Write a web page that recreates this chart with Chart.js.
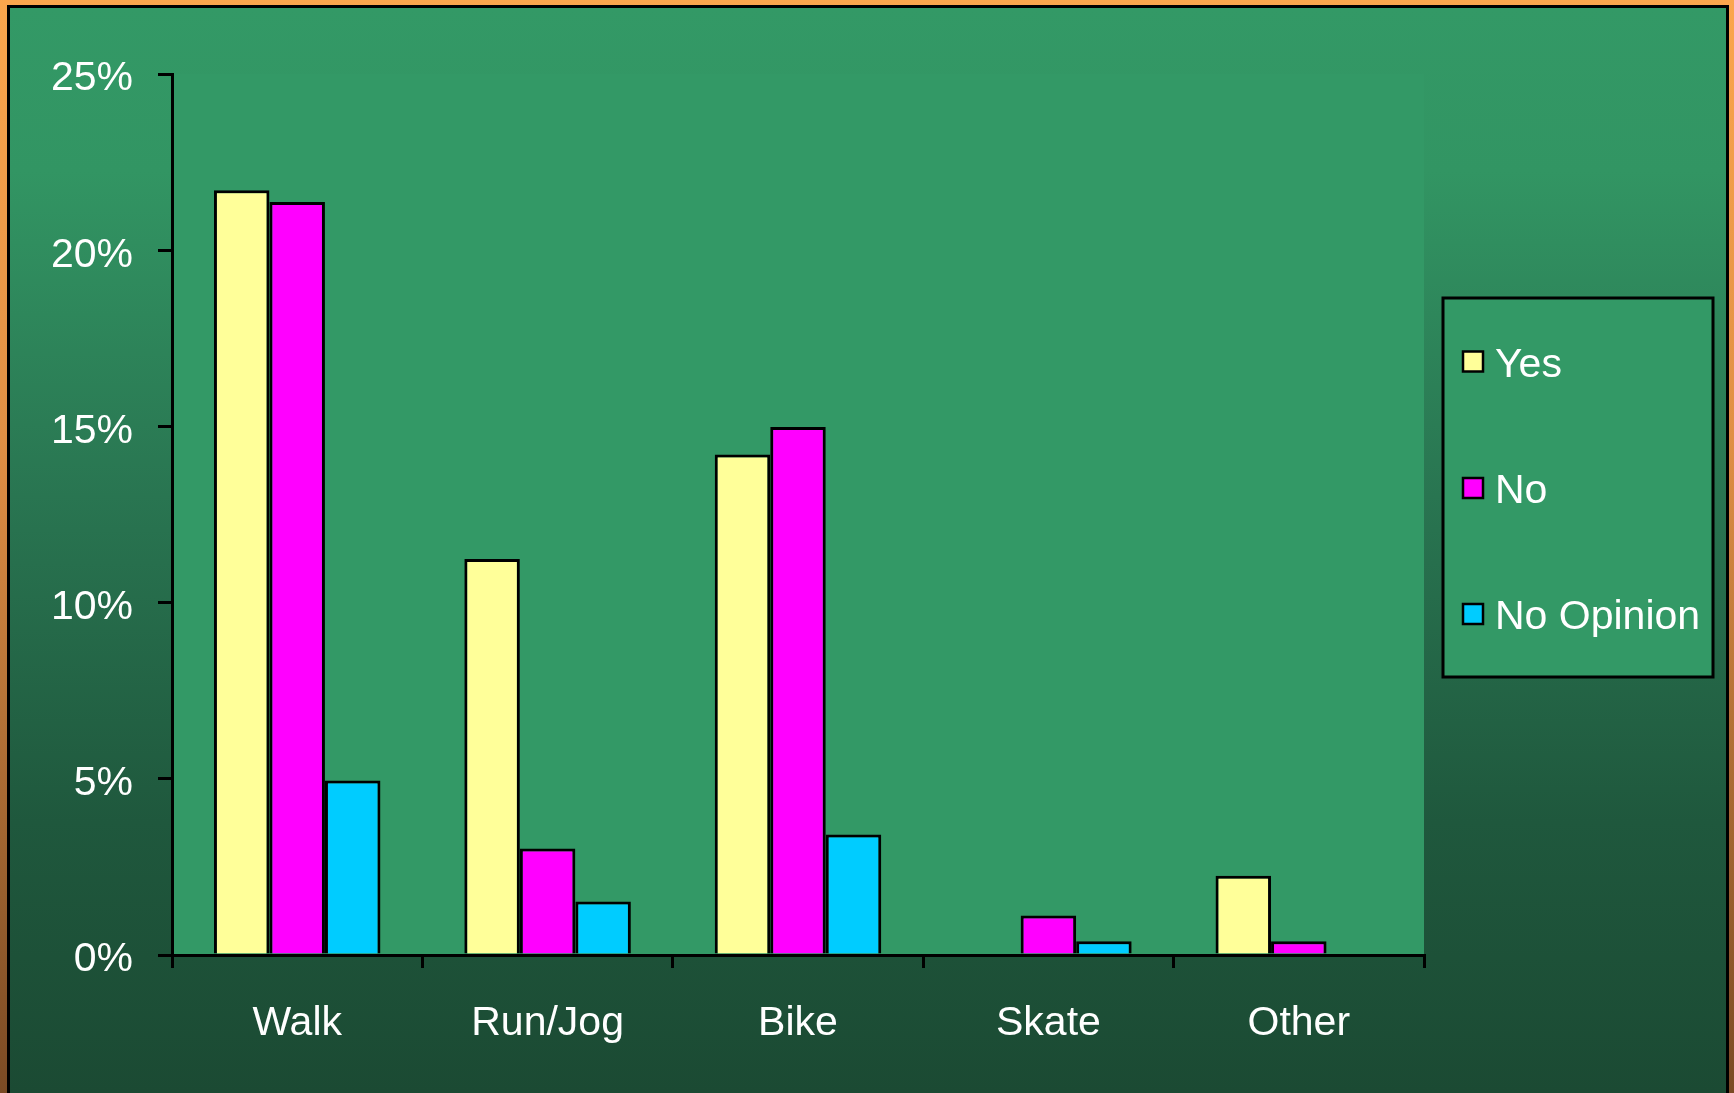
<!DOCTYPE html>
<html>
<head>
<meta charset="utf-8">
<script src="https://cdn.jsdelivr.net/npm/chart.js@4"></script>
<style>
  html, body { margin: 0; padding: 0; background: #1b4a33; }
  canvas { display: block; }
</style>
</head>
<body>
<canvas id="chart" width="1734" height="1093" style="width:1734px;height:1093px"></canvas>
<script>
const categories = ["Walk", "Run/Jog", "Bike", "Skate", "Other"];
const yesValues = [21.7, 11.24, 14.2, 0, 2.25];
const noValues = [21.37, 3.02, 14.98, 1.12, 0.39];
const noOpinionValues = [4.95, 1.52, 3.42, 0.39, 0];
const yTicks = [0, 5, 10, 15, 20, 25];

const FONT = '"Liberation Sans", Arial, sans-serif';

// frame, gradient background and plot area fill
const backdrop = {
	id: "backdrop",
	beforeDraw(chart) {
		const ctx = chart.ctx;
		const W = chart.width, H = chart.height;
		const a = chart.chartArea;
		ctx.save();
		let og = ctx.createLinearGradient(0, 0, 0, H);
		og.addColorStop(0, "#fba64d");
		og.addColorStop(0.4, "#e08f45");
		og.addColorStop(1, "#7a4a24");
		ctx.fillStyle = og;
		ctx.fillRect(0, 0, W, H);
		ctx.fillStyle = "#000";
		ctx.fillRect(7, 5, 1722, H - 5);
		let g = ctx.createLinearGradient(0, 8, 0, H);
		g.addColorStop(0, "#339966");
		g.addColorStop(0.15, "#329563");
		g.addColorStop(0.45, "#297551");
		g.addColorStop(0.75, "#1f583d");
		g.addColorStop(1, "#1b4a33");
		ctx.fillStyle = g;
		ctx.fillRect(10, 8, 1716, H - 8);
		ctx.fillStyle = "#339966";
		ctx.fillRect(a.left, a.top, a.right - a.left, a.bottom - a.top);
		ctx.restore();
	},
	afterDraw(chart) {
		// legend box
		const ctx = chart.ctx;
		ctx.save();
		ctx.fillStyle = "#339966";
		ctx.fillRect(1443, 298, 270, 379);
		ctx.strokeStyle = "#000";
		ctx.lineWidth = 3;
		ctx.strokeRect(1443, 298, 270, 379);
		const rows = [361.5, 488, 614];
		ctx.font = "41px " + FONT;
		ctx.textBaseline = "middle";
		chart.data.datasets.forEach((ds, i) => {
			const y = rows[i];
			ctx.fillStyle = ds.backgroundColor;
			ctx.fillRect(1463, y - 10, 20, 20);
			ctx.lineWidth = 2.5;
			ctx.strokeStyle = "#000";
			ctx.strokeRect(1463, y - 10, 20, 20);
			ctx.fillStyle = "#fff";
			ctx.fillText(ds.label, 1495, y + 4);
		});
		ctx.restore();
	}
};

new Chart(document.getElementById("chart"), {
	type: "bar",
	data: {
		labels: categories,
		datasets: [
			{ label: "Yes", data: yesValues, backgroundColor: "#ffff99" },
			{ label: "No", data: noValues, backgroundColor: "#ff00ff" },
			{ label: "No Opinion", data: noOpinionValues, backgroundColor: "#00ccff" },
		]
	},
	options: {
		responsive: false,
		devicePixelRatio: 1,
		animation: false,
		layout: { padding: { left: 0, top: 74, right: 310, bottom: 0 } },
		datasets: {
			bar: {
				categoryPercentage: 0.665,
				barPercentage: 1.0,
				borderColor: "#000",
				borderWidth: 3,
				borderSkipped: "bottom",
			}
		},
		plugins: {
			legend: { display: false },
			tooltip: { enabled: false },
		},
		scales: {
			x: {
				offset: true,
				grid: {
					offset: true,
					drawOnChartArea: false,
					drawTicks: true,
					tickLength: 13,
					color: "#000",
					lineWidth: 3,
				},
				border: { color: "#000", width: 3 },
				ticks: {
					color: "#fff",
					font: { family: FONT, size: 41 },
					padding: 31,
					maxRotation: 0,
				},
				afterFit(scale) { scale.height = 138; },
			},
			y: {
				min: 0,
				max: 25,
				afterBuildTicks(scale) { scale.ticks = yTicks.map(v => ({ value: v })); },
				grid: {
					drawOnChartArea: false,
					drawTicks: true,
					tickLength: 14,
					color: "#000",
					lineWidth: 3,
				},
				border: { color: "#000", width: 3 },
				ticks: {
					color: "#fff",
					font: { family: FONT, size: 41 },
					padding: 25,
					labelOffset: 5,
					callback: v => v + "%",
				},
				afterFit(scale) { scale.width = 172; },
			}
		}
	},
	plugins: [backdrop]
});
</script>
</body>
</html>
